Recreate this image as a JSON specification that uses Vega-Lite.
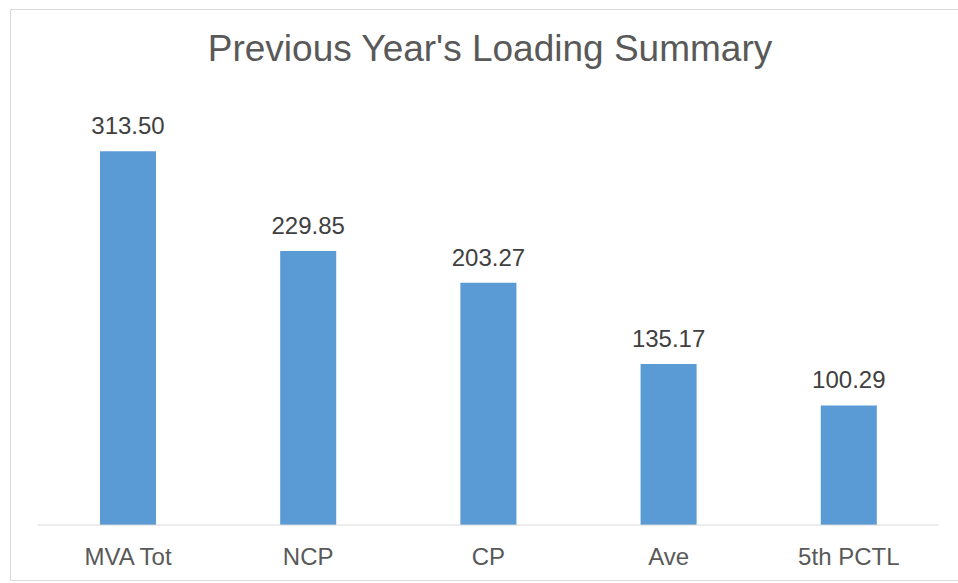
{
  "$schema": "https://vega.github.io/schema/vega-lite/v6.json",
  "width": 948,
  "height": 571,
  "autosize": {"type": "none"},
  "padding": {"left": 10, "top": 9, "right": 0, "bottom": 3},
  "background": "white",
  "config": {
    "font": "Liberation Sans",
    "view": {"stroke": "#d9d9d9", "strokeWidth": 1}
  },
  "title": {
    "text": "Previous Year's Loading Summary",
    "fontSize": 37,
    "fontWeight": "normal",
    "color": "#595959",
    "anchor": "middle",
    "baseline": "alphabetic",
    "offset": -89,
    "dx": 6
  },
  "data": {
    "values": [
      {"category": "MVA Tot", "value": 313.50},
      {"category": "NCP", "value": 229.85},
      {"category": "CP", "value": 203.27},
      {"category": "Ave", "value": 135.17},
      {"category": "5th PCTL", "value": 100.29}
    ]
  },
  "encoding": {
    "x": {
      "field": "category",
      "type": "nominal",
      "sort": null,
      "scale": {"paddingInner": 0.689, "paddingOuter": 0.4749, "align": 0.5257},
      "axis": {
        "title": null,
        "domain": false,
        "ticks": false,
        "tickSize": 0,
        "labelAngle": 0,
        "labelFontSize": 24,
        "labelColor": "#595959",
        "labelBaseline": "alphabetic",
        "labelPadding": 39,
        "offset": -55
      }
    },
    "y": {
      "field": "value",
      "type": "quantitative",
      "scale": {"domain": [-46.1, 432.9], "nice": false, "zero": false},
      "axis": null
    }
  },
  "layer": [
    {
      "mark": {"type": "bar", "color": "#5b9bd5"}
    },
    {
      "mark": {"type": "text", "fontSize": 24, "color": "#404040", "baseline": "alphabetic", "dy": -17},
      "encoding": {
        "text": {"field": "value", "type": "quantitative", "format": ".2f"}
      }
    },
    {
      "data": {"values": [{"first": "MVA Tot", "last": "5th PCTL", "base": 0}]},
      "mark": {"type": "rule", "color": "#d9d9d9", "strokeWidth": 1, "xOffset": -90, "x2Offset": 90},
      "encoding": {
        "x": {"field": "first", "type": "nominal"},
        "x2": {"field": "last"},
        "y": {"field": "base", "type": "quantitative"},
        "text": null
      }
    }
  ]
}
